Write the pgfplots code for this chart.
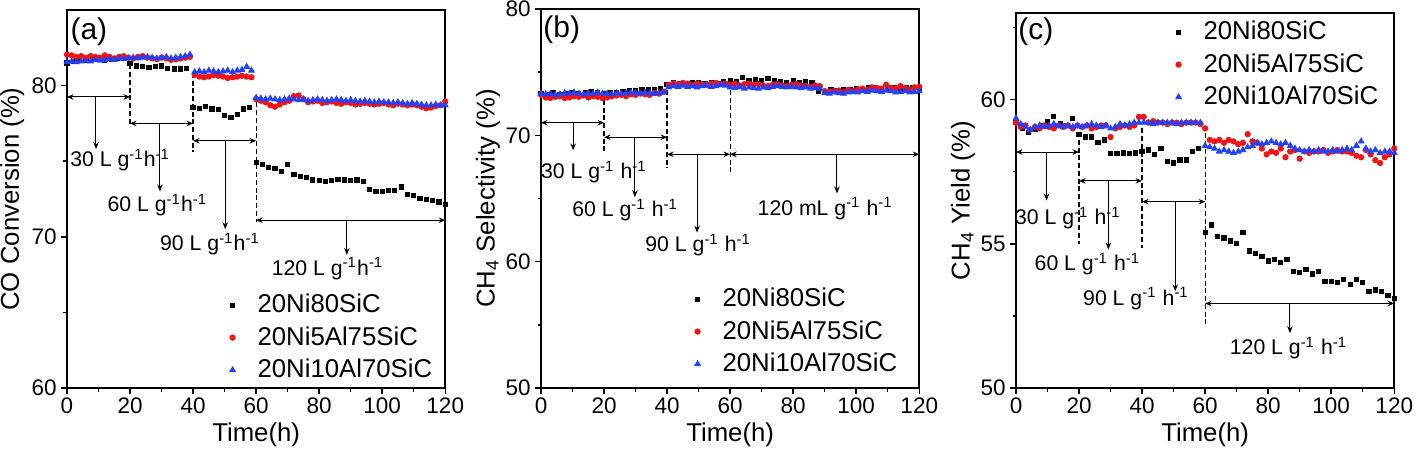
\documentclass[border=0pt]{standalone}
\usepackage{fontspec}
\setmainfont{Liberation Sans}
\usepackage{pgfplots}
\pgfplotsset{compat=1.18}
\usepackage{pgfplotstable}
\usetikzlibrary{arrows.meta}

\definecolor{sred}{RGB}{240,20,20}
\definecolor{sblue}{RGB}{35,65,245}

% black series, every 2 h
\pgfplotstableread{
t k
0 81.5
2 81.6
4 81.7
6 81.65
8 81.75
10 81.8
12 81.7
14 81.75
16 81.8
18 81.85
20 81.45
22 81.3
24 81.25
26 81.2
28 81.25
30 81.3
32 81.15
34 81.1
36 81.1
38 81.15
40 78.55
42 78.5
44 78.6
46 78.45
48 78.4
50 78.0
52 77.9
54 78.1
56 78.45
58 78.55
60 74.9
62 74.8
64 74.6
66 74.5
68 74.3
70 74.8
72 74.1
74 74.0
76 73.9
78 73.75
80 73.7
82 73.65
84 73.7
86 73.8
88 73.75
90 73.7
92 73.75
94 73.65
96 73.15
98 73.0
100 73.0
102 73.05
104 73.05
106 73.3
108 72.8
110 72.75
112 72.55
114 72.45
116 72.4
118 72.3
120 72.15
}\ak

% red / blue series, every 1.5 h
\pgfplotstableread{
t r b
0 82.05 81.55
1.5 82.0 81.6
3 81.9 81.55
4.5 81.95 81.6
6 81.85 81.65
7.5 81.95 81.6
9 81.9 81.7
10.5 81.85 81.65
12 82.0 81.7
13.5 81.9 81.75
15 81.8 81.7
16.5 81.9 81.8
18 81.95 81.75
19.5 81.85 81.8
21 81.8 81.85
22.5 81.9 81.8
24 81.95 81.85
25.5 81.85 81.9
27 81.8 81.85
28.5 81.75 81.8
30 81.85 81.85
31.5 81.8 81.9
33 81.7 81.8
34.5 81.75 81.85
36 81.8 81.9
37.5 81.85 81.95
39 81.9 82.05
40.5 80.7 80.9
42 80.6 80.95
43.5 80.55 80.9
45 80.6 81.0
46.5 80.7 80.95
48 80.65 80.9
49.5 80.6 80.95
51 80.5 81.0
52.5 80.55 80.9
54 80.6 81.0
55.5 80.65 81.05
57 80.6 81.25
58.5 80.55 81.0
60 79.1 79.2
61.5 79.0 79.15
63 78.9 79.1
64.5 78.7 79.15
66 78.6 79.1
67.5 78.75 79.05
69 78.9 79.1
70.5 79.0 79.15
72 79.3 79.1
73.5 79.35 79.05
75 79.1 79.1
76.5 78.9 79.0
78 78.95 79.05
79.5 79.0 79.1
81 78.85 79.05
82.5 78.9 79.0
84 78.95 79.05
85.5 78.85 79.1
87 78.8 79.05
88.5 78.9 79.0
90 78.85 79.05
91.5 78.75 79.0
93 78.8 78.95
94.5 78.85 79.0
96 78.8 78.95
97.5 78.75 78.9
99 78.8 78.95
100.5 78.85 78.9
102 78.75 78.9
103.5 78.7 78.85
105 78.8 78.9
106.5 78.75 78.85
108 78.7 78.8
109.5 78.75 78.85
111 78.7 78.8
112.5 78.6 78.75
114 78.5 78.7
115.5 78.55 78.7
117 78.65 78.75
118.5 78.7 78.7
120 78.95 78.7
}\arb

\pgfplotstableread{
t k
0 73.3
2 73.2
4 73.35
6 73.25
8 73.3
10 73.4
12 73.3
14 73.35
16 73.45
18 73.4
20 73.3
22 73.35
24 73.4
26 73.45
28 73.5
30 73.55
32 73.6
34 73.65
36 73.6
38 73.7
40 74.0
42 74.2
44 74.1
46 74.05
48 74.2
50 74.15
52 74.1
54 74.2
56 74.1
58 74.25
60 74.3
62 74.25
64 74.55
66 74.3
68 74.4
70 74.35
72 74.5
74 74.3
76 74.25
78 74.2
80 74.3
82 74.2
84 74.25
86 74.15
88 73.5
90 73.45
92 73.6
94 73.55
96 73.6
98 73.65
100 73.7
102 73.6
104 73.75
106 73.8
108 73.7
110 73.75
112 73.8
114 73.7
116 73.75
118 73.8
120 73.75
}\bk

\pgfplotstableread{
t r b
0 73.2 73.3
1.5 73.0 73.25
3 72.95 73.3
4.5 73.05 73.2
6 73.1 73.25
7.5 72.95 73.35
9 73.0 73.3
10.5 73.1 73.4
12 73.05 73.3
13.5 73.15 73.25
15 73.0 73.35
16.5 73.1 73.3
18 73.05 73.4
19.5 72.95 73.3
21 73.0 73.3
22.5 73.1 73.25
24 73.15 73.35
25.5 73.2 73.3
27 73.1 73.35
28.5 73.25 73.4
30 73.2 73.35
31.5 73.3 73.3
33 73.25 73.4
34.5 73.2 73.35
36 73.35 73.3
37.5 73.3 73.35
39 73.45 73.4
40.5 74.0 73.8
42 74.1 73.9
43.5 74.05 73.85
45 74.15 73.95
46.5 74.1 73.85
48 74.0 73.9
49.5 74.1 73.8
51 74.05 73.9
52.5 74.0 73.95
54 74.1 73.85
55.5 74.15 73.9
57 74.05 74.0
58.5 74.1 73.95
60 74.0 73.8
61.5 74.1 73.75
63 73.95 73.85
64.5 74.05 73.7
66 74.1 73.8
67.5 74.0 73.75
69 74.05 73.7
70.5 73.95 73.8
72 73.9 73.75
73.5 74.0 73.85
75 74.05 73.9
76.5 73.95 73.85
78 73.9 73.8
79.5 74.0 73.85
81 74.05 73.8
82.5 73.95 73.75
84 73.9 73.8
85.5 73.85 73.7
87 73.95 73.75
88.5 73.9 73.7
90 73.5 73.35
91.5 73.45 73.3
93 73.5 73.4
94.5 73.55 73.35
96 73.4 73.3
97.5 73.6 73.4
99 73.5 73.45
100.5 73.65 73.4
102 73.7 73.5
103.5 73.6 73.45
105 73.8 73.55
106.5 73.75 73.5
108 73.7 73.45
109.5 74.0 73.55
111 73.75 73.5
112.5 73.7 73.4
114 73.9 73.45
115.5 73.75 73.5
117 73.6 73.4
118.5 73.8 73.45
120 73.85 73.5
}\brb

\pgfplotstableread{
t k
0 59.2
2 59.0
4 58.85
6 58.95
8 59.1
10 59.25
12 59.4
14 59.15
16 59.1
18 59.35
20 58.8
22 58.7
24 58.7
26 58.5
28 58.6
30 58.12
32 58.12
34 58.15
36 58.13
38 58.15
40 58.2
42 58.25
44 58.1
46 58.3
48 57.85
50 57.8
52 57.9
54 57.9
56 58.2
58 58.3
60 55.4
62 55.65
64 55.25
66 55.2
68 55.1
70 55.0
72 55.4
74 54.75
76 54.65
78 54.55
80 54.4
82 54.45
84 54.35
86 54.45
88 54.05
90 54.0
92 54.1
94 53.95
96 54.05
98 53.7
100 53.7
102 53.65
104 53.75
106 53.6
108 53.75
110 53.65
112 53.35
114 53.4
116 53.35
118 53.2
120 53.1
}\ck

\pgfplotstableread{
t r b
0 59.2 59.35
1.5 59.05 59.15
3 59.1 59.05
4.5 58.95 58.95
6 59.05 59.05
7.5 59.0 59.1
9 59.1 59.05
10.5 59.05 59.1
12 59.0 59.15
13.5 59.1 59.1
15 59.05 59.05
16.5 59.1 59.1
18 59.0 59.05
19.5 59.1 59.1
21 59.05 59.05
22.5 59.1 59.1
24 59.0 59.15
25.5 59.05 59.1
27 59.1 59.05
28.5 59.1 59.1
30 58.7 59.0
31.5 59.0 59.05
33 59.05 59.15
34.5 59.1 59.1
36 59.05 59.15
37.5 59.1 59.2
39 59.4 59.2
40.5 59.4 59.2
42 59.2 59.2
43.5 59.25 59.15
45 59.2 59.2
46.5 59.2 59.2
48 59.15 59.2
49.5 59.2 59.2
51 59.2 59.15
52.5 59.15 59.2
54 59.2 59.2
55.5 59.2 59.2
57 59.2 59.2
58.5 59.15 59.2
60 59.0 58.4
61.5 58.6 58.35
63 58.55 58.3
64.5 58.6 58.2
66 58.5 58.25
67.5 58.6 58.2
69 58.55 58.15
70.5 58.45 58.2
72 58.5 58.25
73.5 58.8 58.35
75 58.55 58.4
76.5 58.5 58.5
78 58.3 58.45
79.5 58.1 58.5
81 58.2 58.55
82.5 58.15 58.5
84 58.3 58.45
85.5 58.0 58.5
87 58.2 58.4
88.5 58.25 58.3
90 57.95 58.25
91.5 58.2 58.2
93 58.15 58.25
94.5 58.2 58.2
96 58.2 58.25
97.5 58.25 58.2
99 58.15 58.2
100.5 58.2 58.25
102 58.25 58.2
103.5 58.2 58.25
105 58.2 58.3
106.5 58.15 58.25
108 58.05 58.4
109.5 58.0 58.55
111 58.25 58.3
112.5 58.1 58.2
114 57.9 58.25
115.5 57.8 58.15
117 58.0 58.2
118.5 58.1 58.2
120 58.3 58.15
}\crb

\pgfplotsset{
  panel/.style={
    scale only axis, width=151.3pt,
    anchor=south west,
    xmin=0, xmax=120, xtick={0,20,...,120}, minor x tick num=1,
    tick align=outside, xtick pos=left, ytick pos=left,
    major tick length=2.4pt, minor tick length=1.4pt,
    axis line style={line width=0.8pt},
    every tick/.style={line width=0.6pt, black},
    tick label style={font=\fontsize{9}{10}\selectfont, inner sep=1.5pt},
    /pgf/number format/assume math mode=true,
    label style={font=\fontsize{10.3}{12}\selectfont},
    xlabel={Time(h)},
    xlabel style={at={(axis description cs:0.5,-0.124)}, anchor=center},
    legend style={draw=none, fill=none, font=\fontsize{10.3}{12}\selectfont,
      anchor=north west, inner xsep=3pt, inner ysep=2pt,
      nodes={inner sep=2pt, text depth=0.15em}},
    legend image code/.code={%
      \path[draw=none, fill=none] (0pt,0pt) -- (10pt,0pt);
      \draw[#1] plot coordinates {(2pt,0pt)};},
    legend cell align=left,
    clip=false,
  },
  kser/.style={only marks, mark=square*, mark size=0.85pt, black},
  rser/.style={only marks, mark=*, mark size=1.05pt, sred},
  bser/.style={only marks, mark=triangle*, mark size=1.25pt, sblue},
}
\tikzset{
  dsh/.style={line width=0.5pt, dash pattern=on 2pt off 1.1pt},
  hx/.style={line width=0.4pt, {Stealth[length=2.6pt,width=2.2pt]}-{Stealth[length=2.6pt,width=2.2pt]}},
  dn/.style={line width=0.4pt, -{Stealth[length=2.8pt,width=2.2pt]}},
  ann/.style={font=\fontsize{8.5}{10}\selectfont, inner sep=0pt},
  plab/.style={font=\fontsize{12}{14}\selectfont, inner sep=0pt, anchor=west},
}

\begin{document}
\begin{tikzpicture}
\useasboundingbox (0,0) rectangle (567.2pt,185.6pt);

% (a)
\begin{axis}[panel, at={(26.8pt,30.4pt)}, height=151.2pt,
  ymin=60, ymax=85, ytick={60,70,80}, minor ytick={65,75},
  ylabel={CO Conversion (\%)},
  ylabel style={at={(axis description cs:-0.145,0.5)}, anchor=center},
  legend style={at={(axis description cs:0.4034,0.2765)}}]
\addplot[kser] table[x=t,y=k]{\ak};
\addlegendentry{20Ni80SiC}
\addplot[rser] table[x=t,y=r]{\arb};
\addlegendentry{20Ni5Al75SiC}
\addplot[bser] table[x=t,y=b]{\arb};
\addlegendentry{20Ni10Al70SiC}
\draw[dsh] (axis cs:20,81.4) -- (axis cs:20,77.3);
\draw[dsh] (axis cs:40,80.85) -- (axis cs:40,75.6);
\draw[dsh] (axis cs:60,79.4) -- (axis cs:60,71.0);
\draw[hx] (axis cs:0,79.25) -- (axis cs:20,79.25);
\draw[hx] (axis cs:20,77.5) -- (axis cs:40,77.5);
\draw[hx] (axis cs:40,76.35) -- (axis cs:60,76.35);
\draw[hx] (axis cs:60,71.1) -- (axis cs:120,71.1);
\draw[dn] (axis cs:9.2,79.25) -- (axis cs:9.2,75.8);
\draw[dn] (axis cs:29.5,77.5) -- (axis cs:29.5,73.0);
\draw[dn] (axis cs:50.2,76.35) -- (axis cs:50.2,70.5);
\draw[dn] (axis cs:88.8,71.1) -- (axis cs:88.8,68.8);
\node[ann, anchor=west] at (axis cs:0.9,75.1) {30 L g\textsuperscript{-1}h\textsuperscript{-1}};
\node[ann] at (axis cs:28.7,72.1) {60 L g\textsuperscript{-1}h\textsuperscript{-1}};
\node[ann] at (axis cs:45.4,69.5) {90 L g\textsuperscript{-1}h\textsuperscript{-1}};
\node[ann] at (axis cs:82.7,67.9) {120 L g\textsuperscript{-1}h\textsuperscript{-1}};
\node[plab] at (axis description cs:0.008,0.942) {(a)};
\end{axis}

% (b)
\begin{axis}[panel, at={(216.4pt,30.4pt)}, height=151.6pt,
  ymin=50, ymax=80, ytick={50,60,70,80}, minor ytick={55,65,75},
  ylabel={CH\textsubscript{4} Selectivity (\%)},
  ylabel style={at={(axis description cs:-0.14,0.5)}, anchor=center},
  legend style={at={(axis description cs:0.3796,0.2916)}}]
\addplot[kser] table[x=t,y=k]{\bk};
\addlegendentry{20Ni80SiC}
\addplot[rser] table[x=t,y=r]{\brb};
\addlegendentry{20Ni5Al75SiC}
\addplot[bser] table[x=t,y=b]{\brb};
\addlegendentry{20Ni10Al70SiC}
\draw[dsh] (axis cs:20,72.8) -- (axis cs:20,68.7);
\draw[dsh] (axis cs:40,73.6) -- (axis cs:40,67.4);
\draw[dsh] (axis cs:60,73.6) -- (axis cs:60,66.9);
\draw[hx] (axis cs:0,71.0) -- (axis cs:20,71.0);
\draw[hx] (axis cs:20,69.85) -- (axis cs:40,69.85);
\draw[hx] (axis cs:40,68.5) -- (axis cs:60,68.5);
\draw[hx] (axis cs:60,68.5) -- (axis cs:120,68.5);
\draw[dn] (axis cs:10.2,71.0) -- (axis cs:10.2,68.8);
\draw[dn] (axis cs:29.8,69.85) -- (axis cs:29.8,65.1);
\draw[dn] (axis cs:49.5,68.5) -- (axis cs:49.5,62.3);
\draw[dn] (axis cs:93.9,68.5) -- (axis cs:93.9,65.4);
\node[ann] at (axis cs:16.8,67.1) {30 L g\textsuperscript{-1} h\textsuperscript{-1}};
\node[ann] at (axis cs:26.7,64.1) {60 L g\textsuperscript{-1} h\textsuperscript{-1}};
\node[ann] at (axis cs:49.9,61.3) {90 L g\textsuperscript{-1} h\textsuperscript{-1}};
\node[ann] at (axis cs:90.2,64.2) {120 mL g\textsuperscript{-1} h\textsuperscript{-1}};
\node[plab] at (axis description cs:0.005,0.945) {(b)};
\end{axis}

% (c)
\begin{axis}[panel, at={(406.4pt,30.4pt)}, height=150pt,
  ymin=50, ymax=63, ytick={50,55,60}, minor ytick={52.5,57.5,62.5},
  ylabel={CH\textsubscript{4} Yield (\%)},
  ylabel style={at={(axis description cs:-0.14,0.5)}, anchor=center},
  legend style={at={(axis description cs:0.3955,1.0067)}}]
\addplot[kser] table[x=t,y=k]{\ck};
\addlegendentry{20Ni80SiC}
\addplot[rser] table[x=t,y=r]{\crb};
\addlegendentry{20Ni5Al75SiC}
\addplot[bser] table[x=t,y=b]{\crb};
\addlegendentry{20Ni10Al70SiC}
\draw[dsh] (axis cs:20,58.87) -- (axis cs:20,55.0);
\draw[dsh] (axis cs:40,59.0) -- (axis cs:40,54.85);
\draw[dsh] (axis cs:60,59.1) -- (axis cs:60,52.2);
\draw[hx] (axis cs:0,58.18) -- (axis cs:20,58.18);
\draw[hx] (axis cs:20,57.18) -- (axis cs:40,57.18);
\draw[hx] (axis cs:40,56.46) -- (axis cs:60,56.46);
\draw[hx] (axis cs:60,52.93) -- (axis cs:120,52.93);
\draw[dn] (axis cs:9.7,58.18) -- (axis cs:9.7,56.5);
\draw[dn] (axis cs:29.3,57.18) -- (axis cs:29.3,54.8);
\draw[dn] (axis cs:50.5,56.46) -- (axis cs:50.5,53.35);
\draw[dn] (axis cs:86.9,52.93) -- (axis cs:86.9,51.9);
\node[ann] at (axis cs:16.5,55.9) {30 L g\textsuperscript{-1} h\textsuperscript{-1}};
\node[ann] at (axis cs:22.7,54.3) {60 L g\textsuperscript{-1} h\textsuperscript{-1}};
\node[ann] at (axis cs:38.1,53.1) {90 L g\textsuperscript{-1} h\textsuperscript{-1}};
\node[ann] at (axis cs:86.5,51.4) {120 L g\textsuperscript{-1} h\textsuperscript{-1}};
\node[plab] at (axis description cs:0.005,0.949) {(c)};
\end{axis}
\end{tikzpicture}
\end{document}
